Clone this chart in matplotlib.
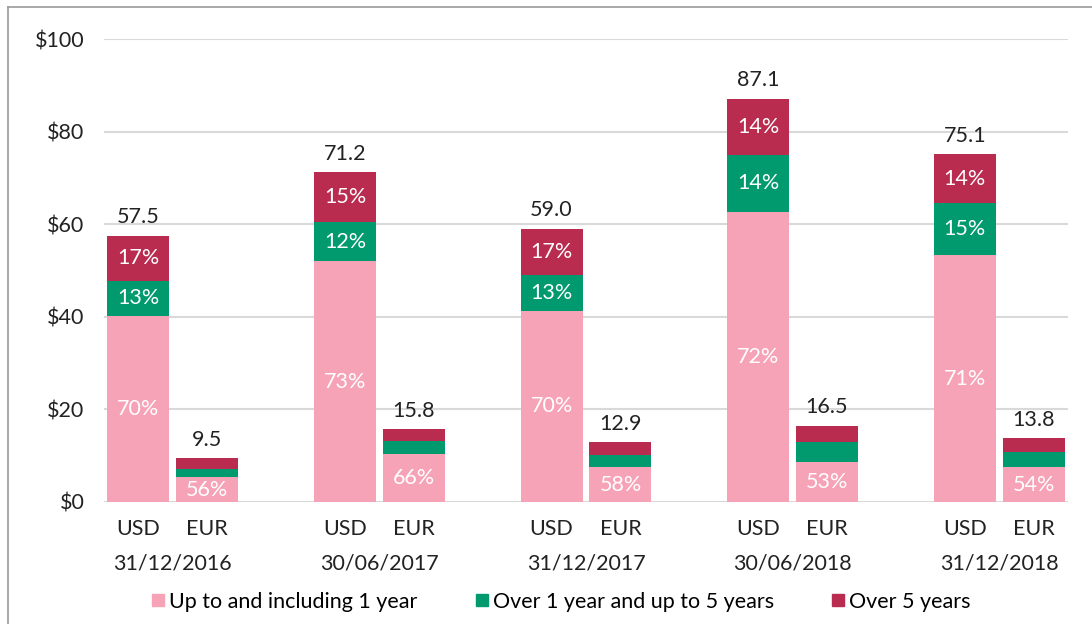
import matplotlib.pyplot as plt
import numpy as np
from matplotlib.lines import Line2D

plt.rcParams['font.family'] = ['Lato', 'DejaVu Sans']

dates = ["31/12/2016", "30/06/2017", "31/12/2017", "30/06/2018", "31/12/2018"]
currencies = ["USD", "EUR"]

# totals ($bn) per date
usd_total = [57.5, 71.2, 59.0, 87.1, 75.1]
eur_total = [9.5, 15.8, 12.9, 16.5, 13.8]

# shares (%) per maturity bucket
usd_short = [70, 73, 70, 72, 71]
usd_mid = [13, 12, 13, 14, 15]
usd_long = [17, 15, 17, 14, 14]
eur_short = [56, 66, 58, 53, 54]
eur_mid = [18, 17, 20, 25, 25]
eur_long = [26, 17, 22, 22, 21]

series_names = ["Up to and including 1 year", "Over 1 year and up to 5 years", "Over 5 years"]
colors = ["#F7A3B7", "#009A6E", "#B92B4F"]
fs = 15.5

fig = plt.figure(figsize=(10.92, 6.24), dpi=100)
ax = fig.add_axes([104 / 1092, 1 - 502 / 624, (1068 - 104) / 1092, (502 - 39) / 624])

n = len(dates)
usd_x = np.arange(n) * 3
eur_x = usd_x + 1
width = 0.9

for xs, tot, shares, show_all in [(usd_x, usd_total, [usd_short, usd_mid, usd_long], True),
                                  (eur_x, eur_total, [eur_short, eur_mid, eur_long], False)]:
    tot = np.array(tot)
    bottom = np.zeros(n)
    for k, sh in enumerate(shares):
        h = tot * np.array(sh) / 100.0
        ax.bar(xs, h, width, bottom=bottom, color=colors[k], edgecolor='none', zorder=3)
        if show_all or k == 0:
            for i in range(n):
                ax.text(xs[i], bottom[i] + h[i] / 2, f"{sh[i]}%", ha='center', va='center',
                        color='white', fontsize=fs, zorder=4)
        bottom += h
    for i in range(n):
        ax.text(xs[i], tot[i] + 1.8, f"{tot[i]:.1f}", ha='center', va='bottom',
                color='#222222', fontsize=fs, zorder=4)

ax.set_xlim(-0.5, 13.5)
ax.set_ylim(0, 100)
ax.set_yticks([0, 20, 40, 60, 80, 100])
ax.set_yticklabels(["$0", "$20", "$40", "$60", "$80", "$100"])
ax.yaxis.grid(True, color='#D9D9D9', linewidth=1.5, zorder=0)
ax.set_axisbelow(True)
for s in ax.spines.values():
    s.set_visible(False)
ax.tick_params(axis='y', length=0, labelsize=fs, pad=14, labelcolor='#222222')
ax.tick_params(axis='x', length=0, labelsize=fs, pad=12, labelcolor='#222222')

xt = np.concatenate([usd_x, eur_x])
ax.set_xticks(xt)
ax.set_xticklabels([currencies[0]] * n + [currencies[1]] * n)

for i in range(n):
    ax.text(usd_x[i] + 0.5, -13.3, dates[i], ha='center', va='center',
            fontsize=fs, color='#222222')

handles = [Line2D([0], [0], marker='s', linestyle='none', markersize=8,
                  markerfacecolor=c, markeredgecolor=c) for c in colors]
fig.legend(handles, series_names, loc='center', bbox_to_anchor=(560 / 1092, 1 - 602 / 624),
           ncol=3, frameon=False, fontsize=fs, handletextpad=0.1, columnspacing=2.6,
           handlelength=0.8)

# frame lines (left and top)
fig.add_artist(Line2D([8 / 1092, 8 / 1092], [0, 1 - 7 / 624], color='#999999', linewidth=1.2))
fig.add_artist(Line2D([8 / 1092, 1], [1 - 7 / 624, 1 - 7 / 624], color='#999999', linewidth=1.2))

fig.savefig("out.png", dpi=100)
